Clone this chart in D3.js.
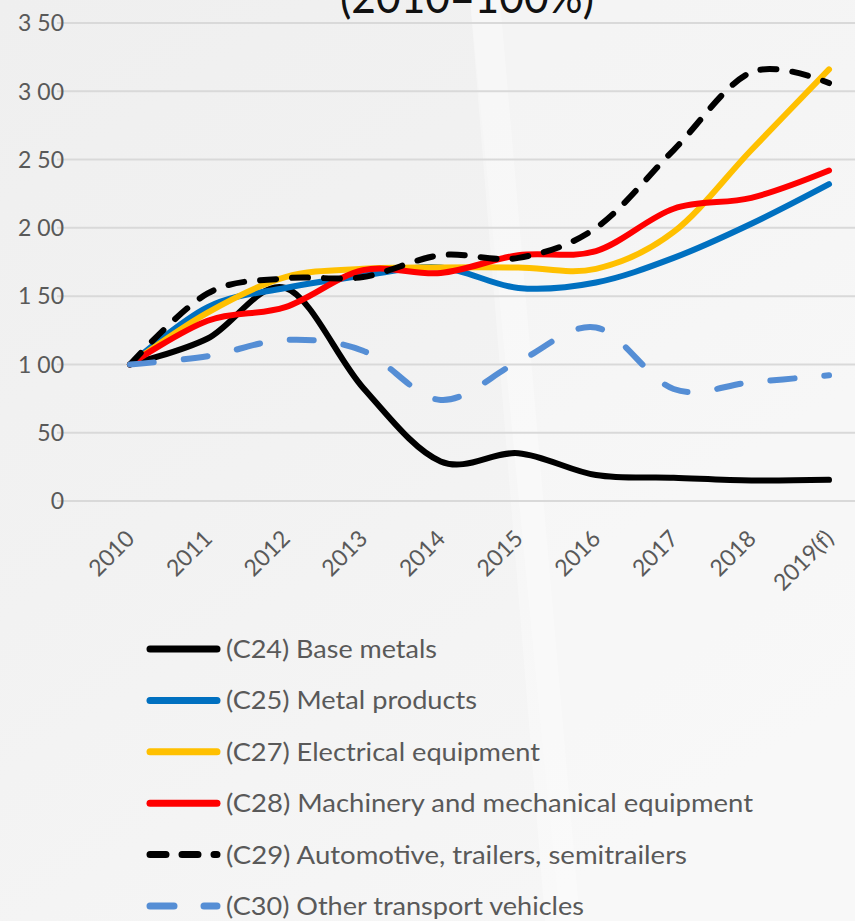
<!DOCTYPE html>
<html>
<head>
<meta charset="utf-8">
<script src="https://cdn.jsdelivr.net/npm/d3@7"></script>
<style>
  html, body { margin: 0; padding: 0; background: #f3f3f3; }
  svg { display: block; }
</style>
</head>
<body>
<div id="viz"></div>
<script>
const years = ["2010", "2011", "2012", "2013", "2014", "2015", "2016", "2017", "2018", "2019(f)"];
const yTicks = [0, 50, 100, 150, 200, 250, 300, 350];
const yTickLabels = ["0", "50", "1 00", "1 50", "2 00", "2 50", "3 00", "3 50"];

const baseMetals = [100, 119, 156, 83, 29, 35, 19, 17, 15, 15.5];
const metalProducts = [100, 142, 156, 165, 171, 156, 160, 178, 203, 232];
const electrical = [100, 138, 164, 170, 171, 171, 170, 197, 257, 316];
const machinery = [100, 132, 142, 169, 167, 180, 183, 214, 222, 242];
const automotive = [100, 152, 163, 164, 180, 178, 200, 257, 314, 306];
const otherTransport = [100, 106, 118, 110, 74, 102, 127, 82, 87, 92];

const seriesNames = [
    "(C24) Base metals",
    "(C25) Metal products",
    "(C27) Electrical equipment",
    "(C28) Machinery and mechanical equipment",
    "(C29) Automotive, trailers, semitrailers",
    "(C30) Other transport vehicles"
];
const seriesColors = ["#000000", "#0070c0", "#ffc000", "#ff0000", "#000000", "#558ed5"];
const seriesDash = [null, null, null, null, "16,16", "24,30"];
const seriesValues = [baseMetals, metalProducts, electrical, machinery, automotive, otherTransport];
// measured widths of the legend labels in the picture
const legendWidths = [211, 251, 314, 527, 461, 358];

const width = 855;
const height = 921;

const svg = d3.select("#viz").append("svg")
    .attr("width", width)
    .attr("height", height);

// background with soft light streaks
const defs = svg.append("defs");
const grad = defs.append("linearGradient").attr("id", "bg")
    .attr("x1", "0").attr("y1", "0").attr("x2", "0.6").attr("y2", "1");
grad.append("stop").attr("offset", "0").attr("stop-color", "#efefef");
grad.append("stop").attr("offset", "0.5").attr("stop-color", "#f2f2f2");
grad.append("stop").attr("offset", "1").attr("stop-color", "#f6f6f6");
svg.append("rect").attr("width", width).attr("height", height).attr("fill", "url(#bg)");
svg.append("path")
    .attr("d", "M470,0 L855,0 L855,921 L560,921 Z")
    .attr("fill", "#ffffff").attr("opacity", 0.25);
svg.append("path")
    .attr("d", "M470,0 L500,0 L580,921 L545,921 Z")
    .attr("fill", "#ffffff").attr("opacity", 0.3);

const x = d3.scalePoint()
    .domain(years)
    .range([130, 829]);

const y = d3.scaleLinear()
    .domain([0, 350])
    .range([501, 23]);

const font = "Lato, 'Open Sans', sans-serif";

// gridlines
svg.append("g")
    .selectAll("line")
    .data(yTicks)
    .enter()
    .append("line")
    .attr("x1", 57)
    .attr("x2", width)
    .attr("y1", d => y(d))
    .attr("y2", d => y(d))
    .attr("stroke", "#d9d9d9")
    .attr("stroke-width", 2);

// y axis labels
svg.append("g")
    .selectAll("text")
    .data(yTicks)
    .enter()
    .append("text")
    .attr("x", 64)
    .attr("y", d => y(d))
    .attr("dy", "0.36em")
    .attr("text-anchor", "end")
    .style("font-family", font)
    .style("font-size", "23px")
    .style("fill", "#595959")
    .text((d, i) => yTickLabels[i]);

// x axis labels
svg.append("g")
    .selectAll("text")
    .data(years)
    .enter()
    .append("text")
    .attr("transform", d => "translate(" + (x(d) + 6) + ",540) rotate(-45)")
    .attr("text-anchor", "end")
    .style("font-family", font)
    .style("font-size", "23px")
    .style("fill", "#595959")
    .text(d => d);

// title (cut at the top)
svg.append("text")
    .attr("x", 467)
    .attr("y", 13)
    .attr("text-anchor", "middle")
    .attr("textLength", 254)
    .attr("lengthAdjust", "spacingAndGlyphs")
    .style("font-family", font)
    .style("font-size", "46px")
    .style("fill", "#111111")
    .text("(2010=100%)");

const line = d3.line()
    .x((d, i) => x(years[i]))
    .y(d => y(d))
    .curve(d3.curveCardinal.tension(0));

svg.append("g")
    .selectAll("path")
    .data(seriesValues)
    .enter()
    .append("path")
    .attr("d", line)
    .attr("fill", "none")
    .attr("stroke", (d, i) => seriesColors[i])
    .attr("stroke-width", 6)
    .attr("stroke-linecap", "round")
    .attr("stroke-linejoin", "round")
    .attr("stroke-dasharray", (d, i) => seriesDash[i]);

// legend
const legend = svg.append("g")
    .selectAll("g")
    .data(seriesNames)
    .enter()
    .append("g")
    .attr("transform", (d, i) => "translate(0," + (649 + i * 51.4) + ")");

legend.append("line")
    .attr("x1", 150)
    .attr("x2", 217)
    .attr("stroke", (d, i) => seriesColors[i])
    .attr("stroke-width", 7)
    .attr("stroke-linecap", "round")
    .attr("stroke-dasharray", (d, i) => seriesDash[i]);

legend.append("text")
    .attr("x", 226)
    .attr("dy", "0.36em")
    .attr("textLength", (d, i) => legendWidths[i])
    .attr("lengthAdjust", "spacingAndGlyphs")
    .style("font-family", font)
    .style("font-size", "25px")
    .style("fill", "#595959")
    .text(d => d);
</script>
</body>
</html>
